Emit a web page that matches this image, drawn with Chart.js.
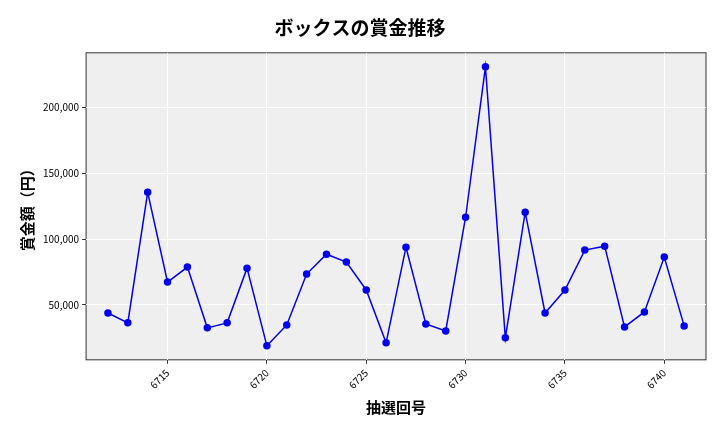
<!DOCTYPE html>
<html><head><meta charset="utf-8">
<script src="https://cdn.jsdelivr.net/npm/chart.js@4"></script>
<style>body{margin:0;background:#fff}#w{width:720px;height:432px}</style>
</head><body><div id="w"><canvas id="c"></canvas></div>
<script>
const draws=[6712,6713,6714,6715,6716,6717,6718,6719,6720,6721,6722,6723,6724,6725,6726,6727,6728,6729,6730,6731,6732,6733,6734,6735,6736,6737,6738,6739,6740,6741];
const prizes=[43900,36400,135600,67400,78800,32600,36400,78000,18900,34800,73500,88600,82600,61400,21200,93900,35600,30300,116700,231000,25000,120500,43900,61400,91700,94700,33300,44700,86400,34100];
const title='ボックスの賞金推移', xTitle='抽選回号', yTitle='賞金額（円）';
const font="'Noto Sans CJK JP','Noto Sans',sans-serif";
const bg={id:'bg',beforeDraw(c){const a=c.chartArea,x=c.ctx;x.save();x.fillStyle='#efefef';x.fillRect(a.left,a.top,a.right-a.left,a.bottom-a.top);x.strokeStyle='#333';x.lineWidth=1;x.strokeRect(a.left,a.top,a.right-a.left,a.bottom-a.top);x.restore();}};
new Chart(document.getElementById('c'),{type:'line',
data:{datasets:[{data:draws.map((d,i)=>({x:d,y:prizes[i]})),borderColor:'#0000ee',backgroundColor:'#0000ee',borderWidth:1.5,pointRadius:3,tension:0}]},
options:{responsive:true,maintainAspectRatio:false,animation:false,
layout:{padding:{left:14,right:14,top:10,bottom:12}},
plugins:{legend:{display:false},title:{display:true,text:title,font:{family:font,size:19,weight:'bold'},color:'#000',padding:{top:6,bottom:14}}},
scales:{x:{type:'linear',min:6710.9,max:6742.1,afterBuildTicks(s){s.ticks=[6715,6720,6725,6730,6735,6740].map(v=>({value:v}));},
ticks:{maxRotation:45,minRotation:45,color:'#000',font:{family:font,size:10},callback:v=>String(v)},
grid:{color:'#fff',drawTicks:true,tickColor:'#333',tickLength:4},border:{display:false},
title:{display:true,text:xTitle,font:{family:font,size:15,weight:'bold'},color:'#000'}},
y:{min:8300,max:241700,afterBuildTicks(s){s.ticks=[50000,100000,150000,200000].map(v=>({value:v}));},
ticks:{color:'#000',font:{family:font,size:10},callback:v=>v.toLocaleString('en-US')},
grid:{color:'#fff',tickColor:'#333',tickLength:4},border:{display:false},
title:{display:true,text:yTitle,font:{family:font,size:15,weight:'bold'},color:'#000'}}}},
plugins:[bg]});
</script></body></html>
